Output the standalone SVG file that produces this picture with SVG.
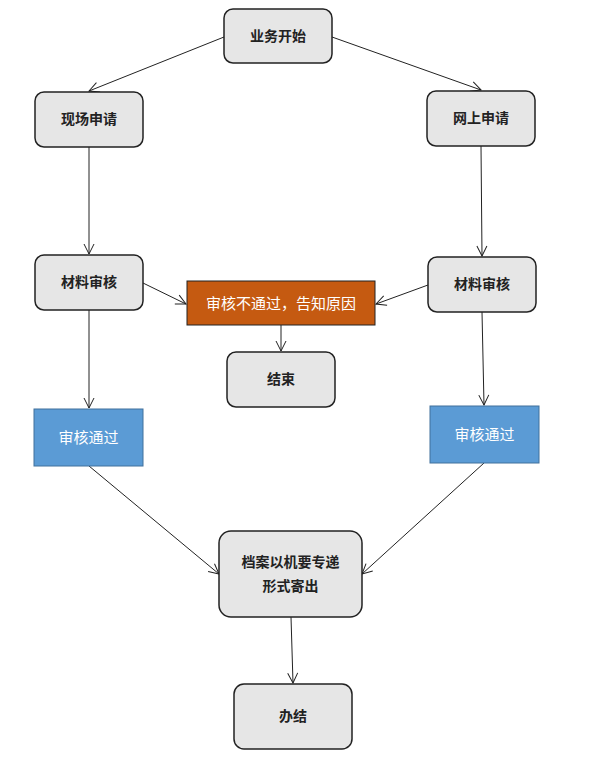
<svg xmlns="http://www.w3.org/2000/svg" width="613" height="767" viewBox="0 0 613 767">
<style>
.n{fill:#E6E6E6;stroke:#222;stroke-width:1.5}
.t{font-family:"Noto Sans CJK SC","Noto Sans",sans-serif;font-size:14px;font-weight:bold;fill:#222;text-anchor:middle;dominant-baseline:central}
.w{font-family:"Noto Sans CJK SC","Noto Sans",sans-serif;font-size:15px;fill:#fff;text-anchor:middle;dominant-baseline:central}
.c{stroke:#222;stroke-width:1;fill:none;marker-end:url(#a)}
</style>
<defs>
<marker id="a" viewBox="0 0 12 12" refX="11" refY="6" markerWidth="12" markerHeight="12" markerUnits="userSpaceOnUse" orient="auto">
<path d="M1,1 L11,6 L1,11" fill="none" stroke="#222" stroke-width="1"/>
</marker>
</defs>
<rect width="613" height="767" fill="#fff"/>
<g id="connectors">
<line class="c" x1="224" y1="37" x2="89" y2="91"/>
<line class="c" x1="332" y1="37" x2="481" y2="90"/>
<line class="c" x1="89" y1="147" x2="89" y2="254"/>
<line class="c" x1="481" y1="146" x2="482" y2="256"/>
<line class="c" x1="143" y1="283" x2="186" y2="304"/>
<line class="c" x1="428" y1="285" x2="376" y2="304"/>
<line class="c" x1="281" y1="325" x2="281" y2="351"/>
<line class="c" x1="89" y1="310" x2="89" y2="408"/>
<line class="c" x1="482" y1="312" x2="484" y2="405"/>
<line class="c" x1="89" y1="466" x2="219" y2="574"/>
<line class="c" x1="484" y1="463" x2="362" y2="574"/>
<line class="c" x1="291" y1="617" x2="293" y2="683"/>
</g>
<g id="start"><rect class="n" x="224" y="9" width="108" height="54" rx="9"/><text class="t" x="278" y="34.5">业务开始</text></g>
<g id="onsite"><rect class="n" x="35" y="92" width="108" height="55" rx="9"/><text class="t" x="89" y="118">现场申请</text></g>
<g id="online"><rect class="n" x="427" y="91" width="108" height="55" rx="9"/><text class="t" x="481" y="117">网上申请</text></g>
<g id="reviewL"><rect class="n" x="35" y="255" width="108" height="55" rx="9"/><text class="t" x="89" y="281">材料审核</text></g>
<g id="reviewR"><rect class="n" x="428" y="257" width="108" height="55" rx="9"/><text class="t" x="482" y="283">材料审核</text></g>
<g id="reject"><rect x="187" y="281" width="188" height="44" fill="#C55A11" stroke="#222" stroke-width="1"/><text class="w" x="281" y="302">审核不通过，告知原因</text></g>
<g id="end"><rect class="n" x="227" y="352" width="108" height="55" rx="9"/><text class="t" x="281" y="378">结束</text></g>
<g id="passL"><rect x="34" y="409" width="109" height="57" fill="#5B9BD5" stroke="#41719C" stroke-width="1"/><text class="w" x="88.5" y="436">审核通过</text></g>
<g id="passR"><rect x="430" y="406" width="109" height="57" fill="#5B9BD5" stroke="#41719C" stroke-width="1"/><text class="w" x="484.5" y="433">审核通过</text></g>
<g id="archive"><rect class="n" x="219" y="531" width="143" height="86" rx="12"/><text class="t" x="290.5" y="561">档案以机要专递</text><text class="t" x="290.5" y="585">形式寄出</text></g>
<g id="done"><rect class="n" x="234" y="684" width="118" height="65" rx="10"/><text class="t" x="293" y="715">办结</text></g>
</svg>
